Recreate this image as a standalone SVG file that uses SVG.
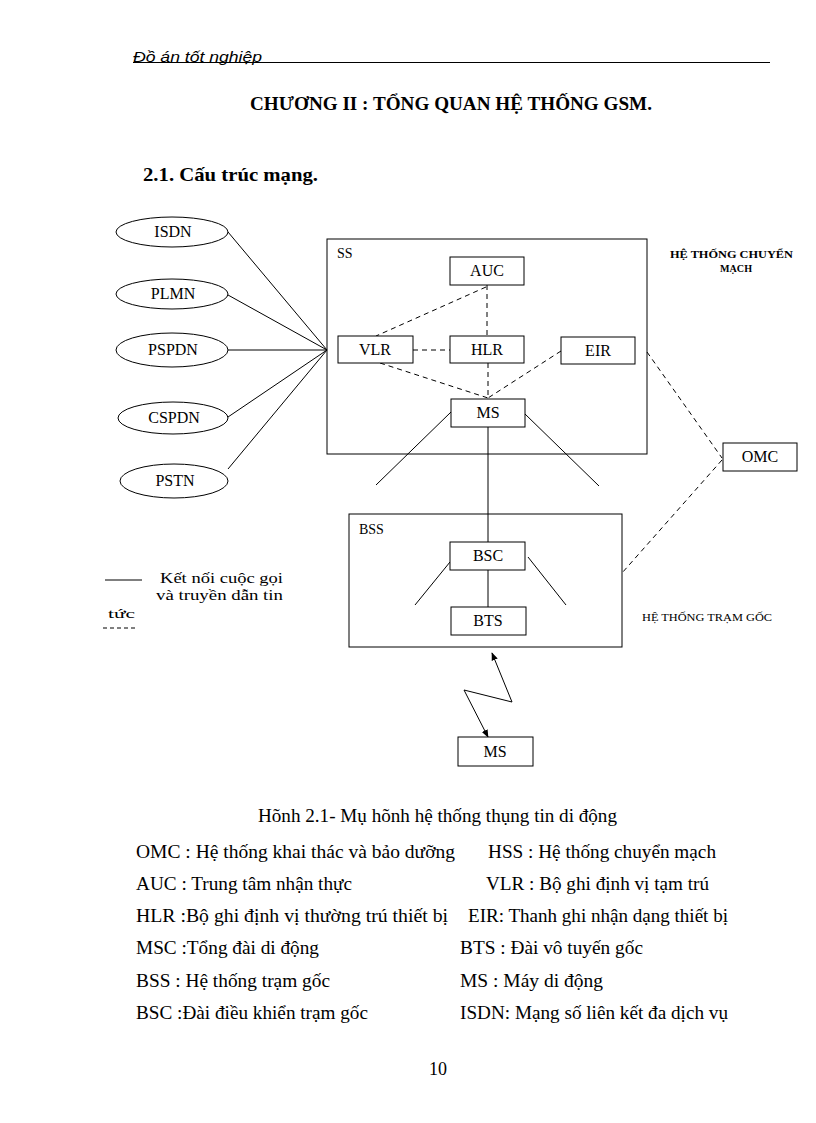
<svg xmlns="http://www.w3.org/2000/svg" width="816" height="1123" viewBox="0 0 816 1123">
<defs>
<style>
text{font-family:"Liberation Serif","Times New Roman",serif;fill:#000}
.n{fill:#fff;stroke:#000;stroke-width:1}
.lbl{font-size:16px;text-anchor:middle}
.s{stroke:#000;stroke-width:1;fill:none}
.d{stroke:#000;stroke-width:1;fill:none;stroke-dasharray:5,4}
.body{font-size:18px}
.small{font-size:10px}
</style>
<marker id="ah" viewBox="0 0 10 10" refX="9" refY="5" markerWidth="8" markerHeight="8" orient="auto-start-reverse" markerUnits="userSpaceOnUse">
<path d="M0,1 L10,5 L0,9 z" fill="#000"/>
</marker>
</defs>
<rect width="816" height="1123" fill="#fff"/>

<!-- header -->
<text x="133" y="62" textLength="129" lengthAdjust="spacingAndGlyphs" style="font-family:'Liberation Sans',Arial,sans-serif;font-size:15px;font-style:italic">Đồ án tốt nghiệp</text>
<line x1="133" y1="62.5" x2="770" y2="62.5" stroke="#000" stroke-width="1"/>
<text x="250" y="110" textLength="402" lengthAdjust="spacingAndGlyphs" style="font-size:18.5px;font-weight:bold">CHƯƠNG II : TỔNG QUAN HỆ THỐNG GSM.</text>
<text x="143" y="181" textLength="175" lengthAdjust="spacingAndGlyphs" style="font-size:19px;font-weight:bold">2.1. Cấu trúc mạng.</text>

<!-- connectors -->
<g id="connectors">
<line class="s" x1="228" y1="232" x2="327" y2="350"/>
<line class="s" x1="228" y1="295" x2="327" y2="350"/>
<line class="s" x1="228" y1="350" x2="327" y2="350"/>
<line class="s" x1="228" y1="417" x2="327" y2="350"/>
<line class="s" x1="228" y1="469" x2="327" y2="350"/>
<line class="d" x1="486" y1="287" x2="376" y2="336"/>
<line class="d" x1="487" y1="285" x2="487" y2="336"/>
<line class="d" x1="413" y1="350" x2="450" y2="350"/>
<line class="d" x1="488" y1="363" x2="488" y2="399"/>
<line class="d" x1="380" y1="363" x2="488" y2="398"/>
<line class="d" x1="561" y1="351" x2="488" y2="398"/>
<line class="d" x1="647" y1="352" x2="722" y2="458"/>
<line class="d" x1="722" y1="460" x2="622" y2="573"/>
<line class="s" x1="451" y1="412" x2="376" y2="485"/>
<line class="s" x1="525" y1="414" x2="599" y2="486"/>
<line class="s" x1="488" y1="427" x2="488" y2="542"/>
<line class="s" x1="450" y1="562" x2="415" y2="605"/>
<line class="s" x1="528" y1="557" x2="566" y2="605"/>
<line class="s" x1="488" y1="570" x2="488" y2="607"/>
<polyline class="s" points="492,653 512,702 464,690 488,737" marker-start="url(#ah)" marker-end="url(#ah)"/>
</g>

<!-- external networks -->
<g id="isdn"><ellipse class="n" cx="172" cy="232" rx="56" ry="15"/><text class="lbl" x="173" y="237">ISDN</text></g>
<g id="plmn"><ellipse class="n" cx="172" cy="294" rx="56" ry="15"/><text class="lbl" x="173" y="299">PLMN</text></g>
<g id="pspdn"><ellipse class="n" cx="172" cy="350" rx="56" ry="17"/><text class="lbl" x="173" y="355">PSPDN</text></g>
<g id="cspdn"><ellipse class="n" cx="173" cy="418" rx="55" ry="16"/><text class="lbl" x="174" y="423">CSPDN</text></g>
<g id="pstn"><ellipse class="n" cx="174" cy="481" rx="54" ry="17"/><text class="lbl" x="175" y="486">PSTN</text></g>

<!-- SS -->
<g id="ss">
<rect class="s" x="327" y="239" width="320" height="215"/>
<text x="337" y="258" style="font-size:14px">SS</text>
</g>
<g id="auc"><rect class="n" x="450" y="257" width="74" height="28"/><text class="lbl" x="487" y="276">AUC</text></g>
<g id="vlr"><rect class="n" x="338" y="336" width="75" height="27"/><text class="lbl" x="375" y="355">VLR</text></g>
<g id="hlr"><rect class="n" x="450" y="336" width="74" height="27"/><text class="lbl" x="487" y="355">HLR</text></g>
<g id="eir"><rect class="n" x="561" y="337" width="74" height="27"/><text class="lbl" x="598" y="356">EIR</text></g>
<g id="msc"><rect class="n" x="451" y="399" width="74" height="28"/><text class="lbl" x="488" y="418">MS</text></g>
<g id="omc"><rect class="n" x="723" y="443" width="74" height="28"/><text class="lbl" x="760" y="462">OMC</text></g>
<g id="ss-label">
<text class="small" x="670" y="258" textLength="123" lengthAdjust="spacingAndGlyphs" style="font-weight:bold">HỆ THỐNG CHUYỂN</text>
<text class="small" x="720" y="272" textLength="32" lengthAdjust="spacingAndGlyphs" style="font-weight:bold">MẠCH</text>
</g>

<!-- BSS -->
<g id="bss">
<rect class="s" x="349" y="514" width="273" height="133"/>
<text x="359" y="534" style="font-size:14px">BSS</text>
</g>
<g id="bsc"><rect class="n" x="450" y="542" width="75" height="28"/><text class="lbl" x="488" y="561">BSC</text></g>
<g id="bts"><rect class="n" x="451" y="607" width="75" height="28"/><text class="lbl" x="488" y="626">BTS</text></g>
<g id="bss-label"><text class="small" x="642" y="621" textLength="130" lengthAdjust="spacingAndGlyphs">HỆ THỐNG TRẠM GỐC</text></g>
<g id="ms"><rect class="n" x="458" y="737" width="75" height="29"/><text class="lbl" x="495" y="757">MS</text></g>

<!-- legend -->
<g id="legend">
<line class="s" x1="105" y1="580" x2="142" y2="580"/>
<text x="160" y="583" textLength="123" lengthAdjust="spacingAndGlyphs" style="font-size:15px">Kết nối cuộc gọi</text>
<text x="156" y="600" textLength="127" lengthAdjust="spacingAndGlyphs" style="font-size:15px">và truyền dẫn tin</text>
<text x="108" y="618" textLength="27" lengthAdjust="spacingAndGlyphs" style="font-size:12px">tức</text>
<line class="d" x1="103" y1="628" x2="138" y2="628" style="stroke-dasharray:4,3"/>
</g>

<!-- caption and glossary -->
<text class="body" x="258" y="822" textLength="359" lengthAdjust="spacingAndGlyphs">Hõnh 2.1- Mụ hõnh hệ thống thụng tin di động</text>
<text class="body" x="136" y="858" textLength="319" lengthAdjust="spacingAndGlyphs">OMC : Hệ thống khai  thác và bảo dưỡng</text>
<text class="body" x="488" y="858" textLength="228" lengthAdjust="spacingAndGlyphs">HSS : Hệ thống chuyển mạch</text>
<text class="body" x="136" y="890" textLength="216" lengthAdjust="spacingAndGlyphs">AUC : Trung tâm nhận thực</text>
<text class="body" x="486" y="890" textLength="223" lengthAdjust="spacingAndGlyphs">VLR : Bộ ghi định vị tạm trú</text>
<text class="body" x="136" y="922" textLength="312" lengthAdjust="spacingAndGlyphs">HLR :Bộ ghi định vị thường trú thiết bị</text>
<text class="body" x="468" y="922" textLength="260" lengthAdjust="spacingAndGlyphs">EIR: Thanh ghi nhận dạng thiết bị</text>
<text class="body" x="136" y="954" textLength="183" lengthAdjust="spacingAndGlyphs">MSC :Tổng đài di động</text>
<text class="body" x="460" y="954" textLength="183" lengthAdjust="spacingAndGlyphs">BTS : Đài vô tuyến gốc</text>
<text class="body" x="136" y="987" textLength="194" lengthAdjust="spacingAndGlyphs">BSS : Hệ thống trạm gốc</text>
<text class="body" x="460" y="987" textLength="143" lengthAdjust="spacingAndGlyphs">MS : Máy di động</text>
<text class="body" x="136" y="1019" textLength="232" lengthAdjust="spacingAndGlyphs">BSC :Đài điều khiển trạm gốc</text>
<text class="body" x="460" y="1019" textLength="268" lengthAdjust="spacingAndGlyphs">ISDN: Mạng số liên kết đa dịch vụ</text>
<text class="body" x="438" y="1075" text-anchor="middle">10</text>
</svg>
